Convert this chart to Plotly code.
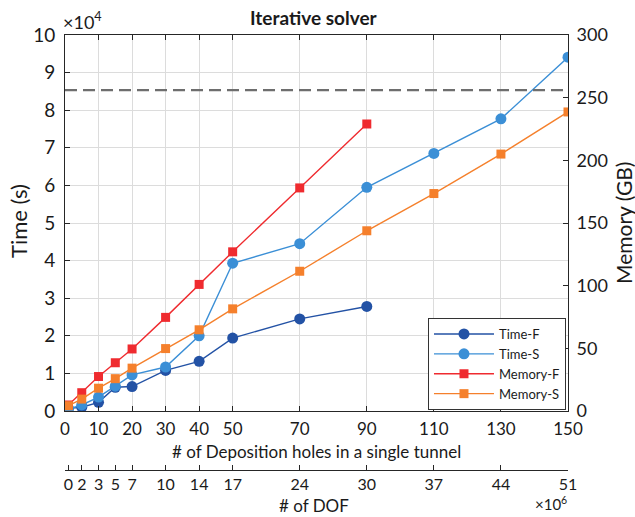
import plotly.graph_objects as go

# ---- data ----
holes_f = [1, 5, 10, 15, 20, 30, 40, 50, 70, 90]
holes_s = [1, 5, 10, 15, 20, 30, 40, 50, 70, 90, 110, 130, 150]
time_f = [700, 1000, 2300, 6300, 6500, 10800, 13200, 19400, 24500, 27800]           # seconds
time_s = [500, 1600, 3700, 6600, 9600, 11700, 20000, 39300, 44500, 59500, 68500, 77700, 94100]
mem_f = [4.8, 14.6, 27.5, 38.5, 49.5, 74.7, 101, 127, 178, 229]                    # GB
mem_s = [4.2, 9.5, 18.2, 25.8, 34.2, 49.8, 64.8, 81.5, 111.5, 143.8, 173.5, 205, 238.6]
mem_limit = 256

x_tickvals = [0, 10, 20, 30, 40, 50, 70, 90, 110, 130, 150]
dof_pos = [1, 5, 10, 15, 20, 30, 40, 50, 70, 90, 110, 130, 150]
dof_labels = ["0", "2", "3", "5", "7", "10", "14", "17", "24", "30", "37", "44", "51"]
y_tickvals = [i * 10000 for i in range(11)]
y_ticktext = [str(i) for i in range(11)]
y2_tickvals = [0, 50, 100, 150, 200, 250, 300]

FONT = "Lato"
AX = "#262626"
GRID = "#dcdcdc"

fig = go.Figure()

fig.add_trace(go.Scatter(x=holes_f, y=time_f, name="Time-F", mode="lines+markers",
                         line=dict(color="#2352a5", width=1.4),
                         marker=dict(symbol="circle", size=11, color="#2352a5")))
fig.add_trace(go.Scatter(x=holes_s, y=time_s, name="Time-S", mode="lines+markers",
                         line=dict(color="#3b8fd6", width=1.4),
                         marker=dict(symbol="circle", size=11, color="#3b8fd6")))
fig.add_trace(go.Scatter(x=holes_f, y=mem_f, name="Memory-F", mode="lines+markers", yaxis="y2",
                         line=dict(color="#ef2b2f", width=1.4),
                         marker=dict(symbol="square", size=9, color="#ef2b2f")))
fig.add_trace(go.Scatter(x=holes_s, y=mem_s, name="Memory-S", mode="lines+markers", yaxis="y2",
                         line=dict(color="#f5802c", width=1.4),
                         marker=dict(symbol="square", size=9, color="#f5802c")))
# dummy trace to carry the DOF axis
fig.add_trace(go.Scatter(x=[0, 150], y=[None, None], xaxis="x2", yaxis="y",
                         showlegend=False, hoverinfo="skip", mode="lines"))

H_PAPER = 472.0
def py(pix):
    return (507 - pix) / H_PAPER
def px(pix):
    return (pix - 65) / 503.0

fig.add_shape(type="line", xref="x domain", x0=0, x1=1, yref="y2", y0=mem_limit, y1=mem_limit,
              line=dict(color="#6e6e6e", width=2.2, dash="12px,6px"), layer="above")

fig.update_layout(
    width=635, height=517,
    margin=dict(l=65, r=67, t=35, b=10, autoexpand=False),
    paper_bgcolor="white", plot_bgcolor="white",
    font=dict(family=FONT, color="#1a1a1a"),
    showlegend=True,
    legend=dict(x=0.996, xanchor="right", y=py(318), yanchor="top",
                bgcolor="white", bordercolor="#333333", borderwidth=1,
                font=dict(size=13, family=FONT), itemwidth=60, tracegroupgap=0),
    xaxis=dict(domain=[0, 1], range=[0, 150], tickvals=x_tickvals, automargin=False,
               ticks="inside", ticklen=5, tickcolor=AX, showline=True, linecolor=AX, linewidth=1,
               mirror="ticks", showgrid=True, gridcolor=GRID, gridwidth=1, zeroline=False,
               tickfont=dict(size=17), ticklabelstandoff=3, anchor="y"),
    xaxis2=dict(range=[0, 150], overlaying="x", anchor="free", position=py(470), side="bottom",
                tickvals=dof_pos, ticktext=dof_labels, ticks="inside", ticklen=5, tickcolor=AX,
                showline=True, linecolor=AX, linewidth=1, showgrid=False, zeroline=False,
                tickfont=dict(size=16), automargin=False),
    yaxis=dict(domain=[py(411), 1], range=[0, 100000], tickvals=y_tickvals, ticktext=y_ticktext,
               ticks="inside", ticklen=5, tickcolor=AX, showline=True, linecolor=AX, linewidth=1,
               showgrid=True, gridcolor=GRID, gridwidth=1, zeroline=False, tickfont=dict(size=19),
               ticklabelstandoff=5, automargin=False),
    yaxis2=dict(overlaying="y", side="right", range=[0, 300], tickvals=y2_tickvals,
                ticks="inside", ticklen=5, tickcolor=AX, showline=True, linecolor=AX, linewidth=1,
                showgrid=False, zeroline=False, tickfont=dict(size=18), ticklabelstandoff=4,
                anchor="x", automargin=False),
)

ann = [
    dict(text="<b>Iterative solver</b>", x=px(314), y=py(18), font=dict(size=19)),
    dict(text="×10<sup>4</sup>", x=px(61), y=py(21), xanchor="left", font=dict(size=18)),
    dict(text="# of Deposition holes in a single tunnel", x=px(316), y=py(451), font=dict(size=17)),
    dict(text="# of DOF", x=px(314), y=py(505), font=dict(size=17)),
    dict(text="×10<sup>6</sup>", x=px(533), y=py(503), xanchor="left", font=dict(size=15)),
    dict(text="Time (s)", x=px(19), y=py(221), textangle=-90, font=dict(size=22)),
    dict(text="Memory (GB)", x=px(623), y=py(223), textangle=-90, font=dict(size=21)),
]
for a in ann:
    a.setdefault("xanchor", "center")
    fig.add_annotation(xref="paper", yref="paper", showarrow=False, yanchor="middle", **a)

fig.write_html("out.html")
